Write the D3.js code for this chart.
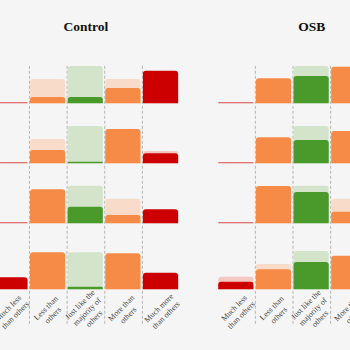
<!DOCTYPE html>
<html>
<head>
<meta charset="utf-8">
<script src="https://cdn.jsdelivr.net/npm/d3@7"></script>
<style>
  body { margin: 0; background: #f5f5f5; }
  svg { display: block; }
</style>
</head>
<body>
<div id="chart"></div>
<script>
/* CONSTANTS AND GLOBALS */
const width = 350,
  height = 350,
  step = 37.65,
  firstLeft = -8.2,
  rowHeight = 37.5,
  rowBases = [103.3, 163.3, 223.3, 289.3];

// DATA (percent of respondents)
const groups = ["Control", "OSB"];

const categories = [
  "Much less than others",
  "Less than others",
  "Just like the majority of others",
  "More than others",
  "Much more than others"
];

const labelLines = [
  ["Much less", "than others"],
  ["Less than", "others"],
  ["Just like the", "majority of", "others"],
  ["More than", "others"],
  ["Much more", "than others"]
];

// solid bars, one row per question
const controlValues = [
  [0, 5.6, 5.6, 13.6, 29.0],
  [0, 11.8, 1.4, 30.5, 8.9],
  [0, 30.2, 14.8, 7.4, 12.4],
  [10.7, 32.9, 2.3, 32.0, 14.8]
];
const osbValues = [
  [0, 22.2, 24.3, 32.5, 4.0],
  [0, 23.1, 20.7, 28.7, 6.0],
  [0, 33.2, 27.8, 10.3, 3.0],
  [6.8, 17.8, 24.3, 29.9, 5.0]
];

// pale bars behind
const controlReference = [
  [0, 21.6, 33.2, 21.6, 11.0],
  [0, 21.6, 33.2, 22.0, 10.9],
  [0, 22.0, 33.4, 21.9, 11.0],
  [10.0, 22.0, 32.9, 22.0, 11.0]
];
const osbReference = [
  [0, 21.5, 33.2, 22.0, 11.0],
  [0, 22.0, 33.2, 22.0, 11.0],
  [0, 22.0, 33.4, 21.9, 11.0],
  [11.2, 22.5, 34.0, 22.0, 11.0]
];

const solidColors = ["#cc0000", "#f68b48", "#4a9a2b", "#f68b48", "#cc0000"];
const paleColors = ["#f4c7c0", "#f9dbc9", "#d4e4cb", "#f9dbc9", "#f4c7c0"];

let svg;
let yScale;

init();

function init() {
  svg = d3.select("#chart")
    .append("svg")
    .attr("width", width)
    .attr("height", height);

  svg.append("rect")
    .attr("width", width)
    .attr("height", height)
    .attr("fill", "#f5f5f5");

  // bar height scale, same for every cell
  yScale = d3.scaleLinear()
    .domain([0, 100 / 3])
    .range([0, rowHeight]);

  const panels = [
    { name: groups[0], values: controlValues, reference: controlReference, left: firstLeft },
    { name: groups[1], values: osbValues, reference: osbReference, left: firstLeft + 6 * step }
  ];

  panels.forEach(p => drawPanel(p));
}

// rounded top corners only
function barPath(x, w, base, h) {
  const r = Math.min(3, h / 2, w / 2);
  const top = base - h;
  return `M${x},${base}V${top + r}Q${x},${top} ${x + r},${top}` +
    `H${x + w - r}Q${x + w},${top} ${x + w},${top + r}V${base}Z`;
}

function drawPanel(p) {
  const xScale = d3.scaleBand()
    .domain(categories)
    .range([p.left, p.left + step * categories.length]);

  const g = svg.append("g").attr("class", "panel");

  // title
  g.append("text")
    .attr("x", p.left + step * categories.length / 2)
    .attr("y", 31)
    .attr("text-anchor", "middle")
    .attr("font-family", "Liberation Serif, serif")
    .attr("font-weight", "bold")
    .attr("font-size", 13.5)
    .attr("fill", "#111")
    .text(p.name);

  // dashed separators
  g.selectAll("line.sep")
    .data(categories.slice(1))
    .join("line")
    .attr("class", "sep")
    .attr("x1", d => xScale(d))
    .attr("x2", d => xScale(d))
    .attr("y1", rowBases[0] - rowHeight)
    .attr("y2", 325)
    .attr("stroke", "#b4b4b4")
    .attr("stroke-width", 1)
    .attr("stroke-dasharray", "3,2");

  const bw = xScale.bandwidth() - 2.4;

  p.values.forEach((row, ri) => {
    const base = rowBases[ri];
    const cells = categories.map((c, ci) => ({
      cat: c, ci: ci, value: row[ci], ref: p.reference[ri][ci]
    }));

    g.selectAll(null)
      .data(cells.filter(d => d.ref > 0))
      .join("path")
      .attr("d", d => barPath(xScale(d.cat) + 0.5, bw, base, yScale(d.ref)))
      .attr("fill", d => paleColors[d.ci]);

    g.selectAll(null)
      .data(cells)
      .join("path")
      .attr("d", d => barPath(xScale(d.cat) + 0.5, bw, base, Math.max(1, yScale(d.value))))
      .attr("fill", d => solidColors[d.ci])
      .attr("fill-opacity", d => d.value > 0 ? 1 : 0.7);
  });

  // rotated category labels
  const labels = g.selectAll("text.cat")
    .data(categories)
    .join("text")
    .attr("class", "cat")
    .attr("transform", d => `translate(${xScale(d) + xScale.bandwidth() / 2 + 1}, 311.5)rotate(-45)`)
    .attr("text-anchor", "middle")
    .attr("font-family", "Liberation Serif, serif")
    .attr("font-size", 8)
    .attr("fill", "#4a4a4a");

  labels.each(function (d, i) {
    const lines = labelLines[i];
    const lh = 10;
    d3.select(this).selectAll("tspan")
      .data(lines)
      .join("tspan")
      .attr("x", 0)
      .attr("y", (l, j) => (j - (lines.length - 1) / 2) * lh + 2.8)
      .text(l => l);
  });
}
</script>
</body>
</html>
